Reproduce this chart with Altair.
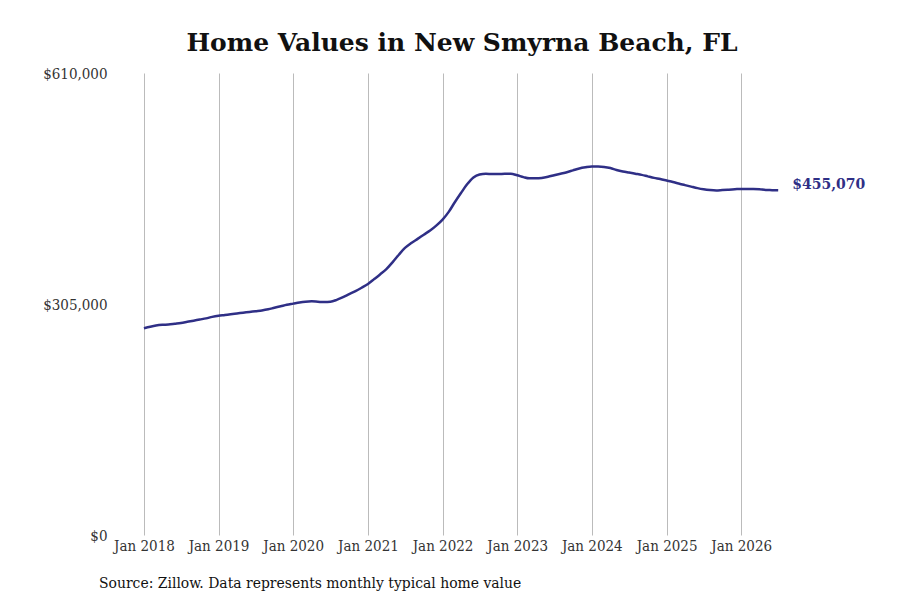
import altair as alt
import pandas as pd

months = pd.date_range("2018-01-01", "2026-07-01", freq="MS").strftime("%Y-%m-%d").tolist()
values = [
    273000, 275000, 276500, 277500, 278000, 279000, 280000, 281500, 283000, 284500, 286000, 288000,
    289500, 290500, 291500, 292500, 293500, 294500, 295500, 296500, 298000, 300000, 302000, 304000,
    305500, 307000, 308000, 308500, 308000, 307500, 308000, 310500, 314000, 318000, 322000, 326500,
    331500, 338000, 344000, 351000, 360000, 370000, 379000, 385500, 391000, 396500, 402000, 408500,
    416500, 427000, 439000, 451500, 463000, 472000, 476000, 477000, 476500, 476500, 477000, 477000,
    475000, 472500, 471000, 471000, 471500, 473000, 475000, 477000, 479000, 481500, 484000, 485500,
    486500, 486500, 486000, 484500, 482000, 480000, 478500, 477000, 475500, 473500, 471500, 470000,
    468000, 466000, 464000, 462000, 460000, 458000, 456500, 455500, 455000, 455500, 456000, 456500,
    457000, 457000, 457000, 456500, 455500, 455300, 455070,
]
y_ticks = [0, 305000, 610000]
x_ticks = [f"{y}-01-01" for y in range(2018, 2027)]
title = "Home Values in New Smyrna Beach, FL"
source = "Source: Zillow. Data represents monthly typical home value"

df = pd.DataFrame({"date": months, "value": values})
last = df.tail(1).assign(label="$455,070")

color = "#2f2f86"
serif = "DejaVu Serif"
cond = "DejaVu Serif Condensed"

x = alt.X(
    "date:T",
    scale=alt.Scale(domain=["2017-09-01", "2026-10-01"]),
    axis=alt.Axis(
        values=x_ticks, format="Jan %Y", title=None, grid=True, gridColor="#bbbbbb",
        domain=False, ticks=False, labelPadding=3, labelFont=cond, labelFontSize=15,
        labelColor="#333333",
    ),
)
y = alt.Y(
    "value:Q",
    scale=alt.Scale(domain=[0, 610000], nice=False),
    axis=alt.Axis(
        values=y_ticks, format="$,.0f", title=None, grid=False, domain=False, ticks=False,
        labelPadding=12, labelFont=cond, labelFontSize=15, labelColor="#333333",
    ),
)

line = alt.Chart(df).mark_line(color=color, strokeWidth=2.5, interpolate="monotone").encode(x=x, y=y)
label = alt.Chart(last).mark_text(
    align="left", dx=14, dy=-5, font=serif, fontSize=14, fontWeight="bold", color=color
).encode(x="date:T", y="value:Q", text="label:N")
src = alt.Chart(pd.DataFrame({"t": [source]})).mark_text(
    align="left", baseline="middle", font=cond, fontSize=15.5, color="#111111"
).encode(x=alt.value(-20), y=alt.value(510), text="t:N")

chart = alt.layer(line, label, src).properties(
    width=678, height=462,
    padding={"left": 111, "top": 65, "right": 95, "bottom": 57},
    autosize=alt.AutoSizeParams(type="none"),
    title=alt.TitleParams(title, font=serif, fontSize=25, fontWeight="bold", color="#111111",
                          anchor="middle", offset=10, dx=4),
).configure_view(stroke=None)

chart.save("out.html", embed_options={"renderer": "svg", "actions": False})
